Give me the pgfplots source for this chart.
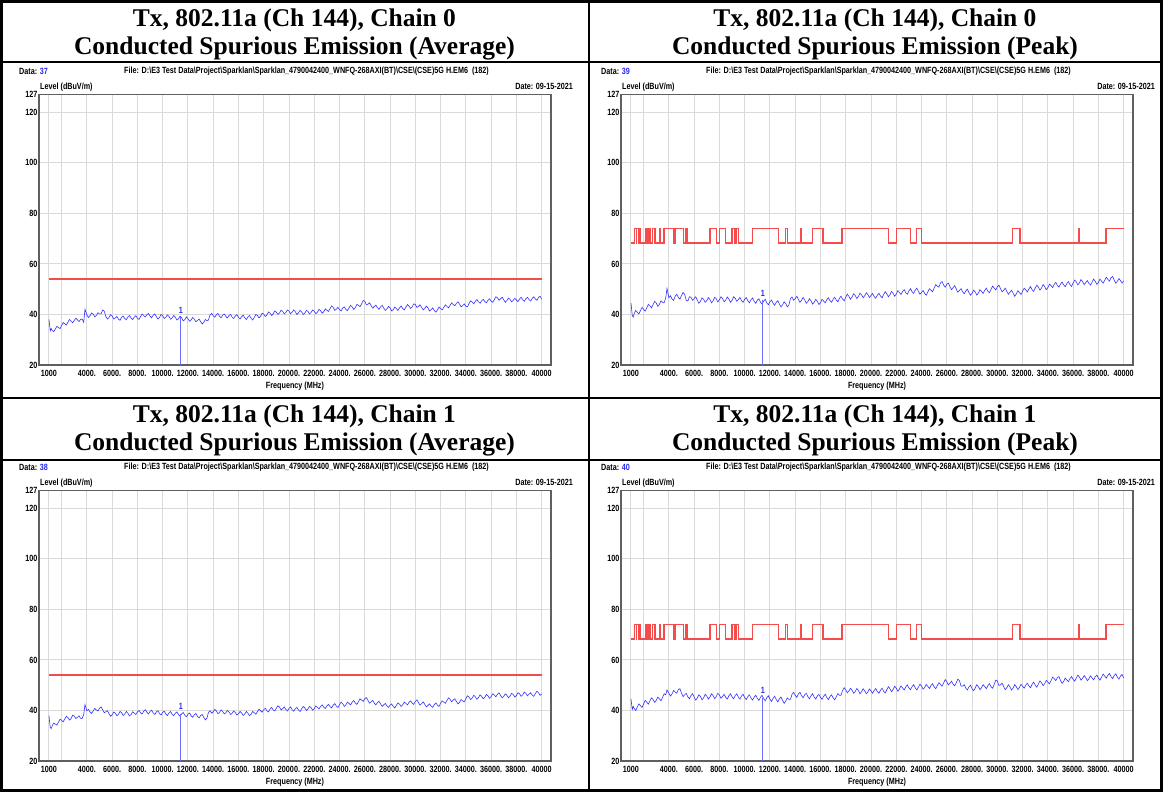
\documentclass[border=0pt]{standalone}
\usepackage{fontspec}
\setmainfont{Liberation Serif}
\newfontfamily\nar[FakeStretch=0.8]{Liberation Sans}
\usepackage{pgfplots}
\usepackage{pgfplotstable}
\pgfplotsset{compat=1.18}
\definecolor{curve}{RGB}{50,50,255}
\definecolor{mark}{RGB}{110,110,255}
\definecolor{lim}{RGB}{245,75,75}
\definecolor{gridc}{RGB}{218,218,218}
\definecolor{framec}{RGB}{95,95,95}
\definecolor{datab}{RGB}{40,40,235}

\pgfplotstableread{
x a0 p0 a1 p1
1000 38.0 44.6 37.9 44.6
1100 33.5 39.6 33.3 40.4
1175 34.4 39.0 32.8 41.6
1250 33.8 40.3 33.9 40.8
1375 33.2 41.6 35.0 40.0
1500 34.2 40.9 34.6 41.3
1625 35.3 40.2 34.2 42.6
1750 34.8 41.5 35.4 41.9
1875 34.4 42.8 36.5 41.2
2000 35.6 42.0 36.1 42.6
2125 36.8 41.3 35.5 44.0
2250 36.3 42.6 36.6 43.3
2375 35.8 44.0 37.7 42.5
2500 37.0 43.4 37.2 43.8
2625 38.0 42.6 36.2 45.0
2750 37.4 43.9 36.8 44.3
2875 36.7 45.2 38.1 43.2
3000 37.6 44.5 37.8 44.0
3125 38.5 43.2 36.8 45.3
3250 37.9 44.0 37.3 44.6
3375 37.2 45.4 37.9 43.8
3500 38.0 44.8 36.9 45.1
3625 38.2 44.6 36.8 46.6
3750 36.9 46.5 38.4 46.2
3850 42.0 50.3 42.3 48.1
4000 39.8 46.6 39.9 46.9
4125 38.8 47.4 40.4 45.7
4250 39.5 46.1 39.4 46.5
4375 40.6 45.6 38.8 47.9
4500 40.1 47.2 39.8 47.3
4625 39.0 48.0 40.8 46.8
4750 39.6 46.7 40.2 48.3
4875 40.7 46.1 39.8 48.6
5000 40.2 47.5 40.9 46.8
5125 40.2 48.7 41.4 45.5
5250 41.8 47.9 40.3 46.2
5375 41.3 45.6 39.1 46.8
5500 39.2 45.3 39.5 45.4
5625 38.2 47.0 39.9 44.6
5750 38.8 46.8 38.7 45.9
5875 39.9 45.6 37.7 46.6
6000 39.4 46.3 38.3 45.3
6125 38.2 47.0 39.4 44.1
6250 38.6 45.7 38.9 44.9
6375 39.2 44.4 37.9 46.2
6500 38.1 45.2 38.5 45.5
6625 37.7 46.6 39.6 44.2
6750 38.9 46.0 39.1 45.0
6875 39.4 44.8 38.0 46.4
7000 38.4 45.5 38.6 45.7
7125 37.9 46.7 39.6 44.5
7250 39.0 45.9 38.9 45.3
7375 39.6 44.6 37.8 46.6
7500 38.6 45.4 38.4 45.9
7625 38.0 46.8 39.5 44.7
7750 38.9 46.2 39.0 45.5
7875 39.5 45.0 38.4 46.8
8000 38.5 45.8 39.4 46.1
8125 38.0 47.0 40.0 44.8
8250 39.2 46.3 39.1 45.6
8375 40.2 45.0 38.6 46.4
8500 39.6 45.7 39.7 45.2
8625 39.0 46.9 40.3 44.5
8750 39.9 46.1 39.3 45.8
8875 40.4 44.8 38.6 46.6
9000 39.3 45.6 39.6 45.4
9125 38.7 47.0 40.1 44.6
9250 39.7 46.4 39.0 45.9
9375 40.2 45.2 38.4 46.6
9500 39.1 45.9 39.4 45.3
9625 38.2 46.7 39.9 44.5
9750 38.8 45.5 38.8 45.7
9875 40.0 44.8 38.2 46.4
10000 39.5 46.0 39.2 45.1
10125 38.4 46.7 39.7 44.3
10250 38.9 45.4 38.6 45.5
10375 39.8 44.6 38.0 46.2
10500 39.2 45.8 39.0 44.9
10625 38.1 46.5 39.6 44.1
10750 38.6 45.2 38.5 45.3
10875 39.6 44.4 37.9 46.0
11000 38.9 45.6 38.9 44.8
11125 37.8 46.2 39.4 44.0
11250 38.3 44.9 38.4 45.2
11375 39.3 44.1 37.7 46.0
11500 38.7 45.3 38.6 44.7
11625 37.5 46.0 39.2 43.8
11750 37.9 44.6 38.1 45.0
11875 39.0 43.8 37.5 45.8
12000 38.4 45.0 38.5 44.5
12125 37.3 45.7 39.0 43.6
12250 37.8 44.4 37.9 44.8
12375 38.8 43.6 37.3 45.6
12500 38.2 44.8 38.3 44.3
12625 37.1 45.4 38.8 43.4
12750 37.6 44.1 37.7 44.6
12875 38.2 43.0 37.0 45.3
13000 37.2 43.8 38.0 44.0
13125 36.2 45.0 38.4 42.8
13250 36.9 44.3 37.3 43.7
13375 38.0 43.0 36.3 45.0
13500 37.5 43.7 36.9 44.4
13625 37.8 46.3 39.2 44.4
13750 39.8 46.9 39.9 46.4
13875 40.4 45.6 38.9 47.2
14000 39.5 46.3 39.5 46.0
14125 38.9 47.2 40.4 45.2
14250 39.9 46.0 39.8 46.5
14375 40.4 44.8 38.7 47.2
14500 39.3 45.6 39.2 45.9
14625 38.7 46.7 40.2 45.0
14750 39.7 45.8 39.6 46.2
14875 40.2 44.4 38.6 46.8
15000 39.2 45.1 39.1 45.5
15125 38.6 46.2 40.0 44.6
15250 39.6 45.4 39.4 45.8
15375 40.0 44.1 38.4 46.6
15500 38.9 44.8 38.9 45.3
15625 38.4 46.0 39.8 44.5
15750 39.4 45.2 39.2 45.7
15875 39.9 43.9 38.2 46.4
16000 38.8 44.6 38.7 45.2
16125 38.2 46.0 39.6 44.4
16250 39.1 45.3 39.0 45.6
16375 39.7 44.6 38.0 46.4
16500 38.7 45.8 38.6 45.1
16625 38.0 46.6 39.6 44.3
16750 39.0 45.5 38.9 45.5
16875 39.6 44.8 37.9 46.2
17000 38.5 46.0 38.5 45.0
17125 37.8 46.8 39.6 44.2
17250 38.8 45.7 39.1 45.4
17375 40.0 45.0 38.5 46.7
17500 39.6 46.4 39.5 46.0
17625 38.6 47.2 40.5 46.0
17750 39.3 46.1 39.9 47.9
17875 40.5 45.4 39.3 49.0
18000 40.1 46.8 40.3 48.2
18125 39.2 48.0 40.9 47.0
18250 39.8 47.2 39.9 47.7
18375 41.0 46.0 39.4 48.8
18500 40.5 46.9 40.6 48.0
18625 39.6 48.2 41.2 46.8
18750 40.2 47.5 40.2 47.5
18875 41.4 46.3 39.8 48.7
19000 40.9 47.1 40.9 47.9
19125 40.0 48.4 41.9 46.6
19250 40.6 47.8 41.3 47.4
19375 41.7 46.6 40.2 48.6
19500 41.2 47.4 40.7 47.8
19625 40.2 48.6 41.4 46.6
19750 40.8 47.9 40.4 47.3
19875 41.8 46.7 39.8 48.5
20000 41.3 47.5 40.8 47.7
20125 40.3 48.3 41.4 46.8
20250 40.9 47.1 40.3 47.9
20375 41.8 46.4 39.7 48.7
20500 41.1 47.6 40.7 47.5
20625 40.0 48.4 41.2 46.8
20750 40.6 47.3 40.2 48.0
20875 41.6 46.6 39.6 48.8
21000 41.0 47.9 40.6 47.6
21125 40.0 49.0 41.6 46.9
21250 40.5 48.2 41.0 48.2
21375 41.6 47.0 40.0 49.4
21500 41.2 47.8 40.6 48.6
21625 40.2 49.1 41.6 47.4
21750 40.8 48.4 41.1 48.3
21875 41.8 47.2 40.1 49.6
22000 41.3 48.1 40.7 48.8
22125 40.3 49.4 41.8 47.6
22250 40.9 48.7 41.2 48.5
22375 42.0 47.9 40.6 49.7
22500 41.5 49.1 41.6 48.9
22625 40.5 49.8 42.2 48.1
22750 41.1 48.6 41.3 49.3
22875 42.2 48.0 40.8 50.1
23000 41.7 49.3 41.8 48.9
23125 41.2 50.2 42.4 48.2
23250 42.3 49.0 41.5 49.4
23375 43.4 48.3 41.0 50.2
23500 42.8 49.6 42.1 49.0
23625 41.6 50.4 42.7 48.1
23750 42.1 49.2 41.7 49.2
23875 42.8 48.0 41.2 50.4
24000 41.9 48.7 42.3 49.6
24125 41.4 49.5 43.3 48.4
24250 42.5 48.3 42.7 49.1
24375 43.0 47.6 41.6 50.3
24500 42.0 48.9 42.2 49.5
24625 41.5 50.2 43.3 48.7
24750 42.6 49.6 42.8 49.9
24875 43.6 49.0 42.2 50.6
25000 43.0 50.4 43.3 49.4
25125 42.0 51.8 43.9 48.6
25250 42.7 51.2 42.9 49.8
25375 44.0 50.8 42.4 51.0
25500 43.6 52.5 43.5 50.3
25625 43.1 53.0 44.6 49.6
25750 44.2 51.6 44.1 50.9
25875 45.5 50.8 43.6 52.2
26000 45.2 51.9 44.6 51.4
26125 43.8 52.4 45.1 50.1
26250 44.0 51.0 44.0 50.8
26375 44.6 49.8 42.9 51.6
26500 43.5 50.6 43.4 50.4
26625 42.5 51.4 44.0 49.7
26750 43.1 50.1 42.9 51.0
26875 43.7 48.8 42.2 52.4
27000 42.7 49.5 43.1 51.8
27125 42.0 50.2 43.6 49.7
27250 43.0 49.0 42.6 49.6
27375 43.6 48.2 41.6 50.2
27500 42.5 49.3 42.2 48.9
27625 41.6 50.0 42.8 48.1
27750 42.2 48.7 41.8 49.3
27875 43.2 47.6 41.2 50.0
28000 42.6 48.4 42.1 48.6
28125 41.4 49.6 42.6 47.8
28250 41.9 48.9 41.6 48.9
28375 42.9 47.7 41.0 50.2
28500 42.3 48.5 42.0 49.4
28625 41.6 49.8 43.0 48.2
28750 42.6 49.1 42.5 49.0
28875 43.3 48.3 41.6 50.2
29000 42.4 49.5 42.2 49.5
29125 41.8 50.4 43.3 48.6
29250 42.9 49.2 42.8 49.8
29375 43.9 48.6 42.2 50.6
29500 43.3 49.9 43.2 49.4
29625 42.4 51.2 43.8 48.8
29750 43.0 50.5 42.9 50.3
29875 44.2 49.7 42.4 52.0
30000 43.9 50.9 43.6 51.7
30125 42.8 51.6 44.2 49.9
30250 43.2 50.2 43.1 50.1
30375 43.8 48.9 42.1 50.8
30500 42.8 49.6 42.7 49.5
30625 41.8 50.4 43.4 48.2
30750 42.4 49.1 42.4 49.0
30875 43.3 48.0 41.4 50.2
31000 42.6 48.8 42.0 49.3
31125 41.4 49.6 42.6 48.1
31250 41.9 48.4 41.7 48.9
31375 42.6 47.2 41.2 50.2
31500 41.6 48.1 42.3 49.4
31625 40.9 49.4 43.0 48.2
31750 41.8 48.6 42.1 49.1
31875 42.9 47.9 41.6 50.4
32000 42.4 49.2 42.8 49.6
32125 41.8 50.4 43.8 48.8
32250 42.8 49.7 43.3 50.0
32375 43.8 48.9 42.8 50.8
32500 43.2 50.1 43.9 49.7
32625 42.6 51.0 45.0 49.0
32750 43.6 49.8 44.4 50.3
32875 44.6 49.1 43.4 51.2
33000 43.9 50.4 44.1 50.0
33125 43.4 51.6 44.6 49.2
33250 44.4 50.8 43.6 50.5
33375 45.0 49.6 42.6 51.7
33500 44.1 50.5 43.2 50.9
33625 43.0 51.8 44.3 49.8
33750 43.5 51.0 43.8 50.6
33875 44.2 49.8 43.4 51.9
34000 43.2 50.6 44.6 51.2
34125 43.0 52.0 45.8 50.5
34250 44.3 51.4 45.3 51.8
34375 45.4 50.6 44.3 53.2
34500 44.9 51.9 44.9 52.6
34625 44.2 52.7 46.0 51.8
34750 45.2 51.5 45.4 53.0
34875 45.9 50.8 44.4 53.4
35000 45.0 52.0 45.1 51.9
35125 44.4 52.8 46.2 50.7
35250 45.4 51.7 45.6 51.5
35375 46.0 51.0 44.6 52.8
35500 45.1 52.2 45.2 52.1
35625 44.6 53.0 46.3 51.4
35750 45.6 51.8 45.8 52.6
35875 46.2 51.1 44.8 53.4
36000 45.3 52.4 45.5 52.3
36125 44.8 53.6 46.6 51.6
36250 45.8 52.9 46.1 52.8
36375 47.0 51.7 45.4 54.0
36500 46.6 52.5 46.4 53.2
36625 45.6 53.8 47.0 52.0
36750 46.2 53.0 45.9 52.7
36875 46.8 51.8 45.0 53.8
37000 45.8 52.6 45.6 53.0
37125 44.8 53.4 46.6 51.8
37250 45.5 52.3 46.0 52.5
37375 46.5 51.6 45.0 53.7
37500 45.9 52.8 45.7 52.9
37625 45.0 54.0 46.8 52.1
37750 45.6 53.1 46.3 53.3
37875 46.4 51.9 45.3 54.0
38000 45.7 52.7 45.9 52.8
38125 45.1 54.0 47.0 52.0
38250 46.1 53.2 46.6 53.2
38375 46.8 52.4 45.6 54.4
38500 45.8 53.5 46.2 53.6
38625 45.2 54.7 47.3 52.8
38750 46.2 53.9 46.8 53.9
38875 46.8 53.2 45.8 54.6
39000 45.9 54.5 46.4 53.4
39125 45.3 55.0 47.0 52.6
39250 46.3 53.6 46.1 53.8
39375 47.0 52.4 45.6 54.5
39500 46.1 53.1 46.7 53.2
39625 45.6 54.2 47.6 52.4
39750 46.8 53.4 47.0 53.6
39875 47.2 52.4 46.0 54.2
40000 46.0 53.3 46.5 52.9
}\spec

\pgfplotstableread{
x lvl
1000 68.2
1300 74
1427 68.2
1435 74
1626.5 68.2
1645.5 74
1646.5 68.2
1660 74
1710 68.2
1718.8 74
1722.2 68.2
2200 74
2300 68.2
2310 74
2390 68.2
2483.5 74
2500 68.2
2690 74
2900 68.2
3260 74
3267 68.2
3332 74
3339 68.2
3345.8 74
3358 68.2
3600 74
4400 68.2
4500 74
5150 68.2
5350 74
5460 68.2
7250 74
7750 68.2
8025 74
8500 68.2
9000 74
9200 68.2
9300 74
9500 68.2
10600 74
12700 68.2
13250 74
13400 68.2
14470 74
14500 68.2
15350 74
16200 68.2
17700 74
21400 68.2
22010 74
23120 68.2
23600 74
24000 68.2
31200 74
31800 68.2
36430 74
36500 68.2
38600 74
40000 74
}\peaklim

\newcommand\smallfont{\nar\bfseries\fontsize{9}{10.5}\selectfont}

\pgfplotsset{emi/.style={
  scale only axis, width=512pt, height=270.4pt,
  anchor=south west,
  xmin=210, xmax=40740, ymin=20, ymax=127,
  axis line style={framec, line width=1.2pt},
  grid=major, major grid style={gridc, line width=1pt},
  major tick length=0pt,
  scaled x ticks=false, scaled y ticks=false,
  xtick={1000,2000,4000,6000,8000,10000,12000,14000,16000,18000,20000,22000,24000,26000,28000,30000,32000,34000,36000,38000,40000},
  xticklabels={1000,,4000.,6000.,8000.,10000.,12000.,14000.,16000.,18000.,20000.,22000.,24000.,26000.,28000.,30000.,32000.,34000.,36000.,38000.,40000},
  ytick={20,40,60,80,100,120,127},
  yticklabels={20,40,60,80,100,120,127},
  ticklabel style={font=\smallfont, text=black},
  yticklabel style={inner sep=1.5pt},
  xticklabel style={inner sep=1pt, yshift=-4pt},
  xlabel={Frequency (MHz)},
  xlabel style={font=\smallfont, at={(axis description cs:0.5,0)}, anchor=north, yshift=-17pt, inner sep=0pt},
}}

\newcommand\paneltext[3]{%
  \node[anchor=west, font=\smallfont, inner sep=0pt] at ({19+#1},{721+(#2)}) {Data: \textcolor{datab}{#3}};
  \node[anchor=west, font=\smallfont, inner sep=0pt] at ({124+#1},{721+(#2)}) {File: D:\textbackslash E3 Test Data\textbackslash Project\textbackslash Sparklan\textbackslash Sparklan\_4790042400\_WNFQ-268AXI(BT)\textbackslash CSE\textbackslash (CSE)5G H.EM6\ \ (182)};
  \node[anchor=west, font=\smallfont, inner sep=0pt] at ({40+#1},{705+(#2)}) {Level (dBuV/m)};
  \node[anchor=east, font=\smallfont, inner sep=0pt] at ({573+#1},{705.5+(#2)}) {Date: 09-15-2021};
}

\begin{document}
\begin{tikzpicture}[x=1pt,y=1pt]
\useasboundingbox (0,0) rectangle (1163,792);

% table rules
\draw[line width=3pt] (1.5,1.5) rectangle (1161.5,790.5);
\draw[line width=2.5pt] (589,0) -- (589,792);
\draw[line width=2pt] (0,730) -- (1163,730);
\draw[line width=2pt] (0,394) -- (1163,394);
\draw[line width=2pt] (0,332) -- (1163,332);

% titles
\node[font=\bfseries\fontsize{25.5}{28}\selectfont, align=center] at (294.5,758) {Tx, 802.11a (Ch 144), Chain 0\\Conducted Spurious Emission (Average)};
\node[font=\bfseries\fontsize{25.5}{28}\selectfont, align=center] at (875,758) {Tx, 802.11a (Ch 144), Chain 0\\Conducted Spurious Emission (Peak)};
\node[font=\bfseries\fontsize{25.5}{28}\selectfont, align=center] at (294.5,362) {Tx, 802.11a (Ch 144), Chain 1\\Conducted Spurious Emission (Average)};
\node[font=\bfseries\fontsize{25.5}{28}\selectfont, align=center] at (875,362) {Tx, 802.11a (Ch 144), Chain 1\\Conducted Spurious Emission (Peak)};

\paneltext{0}{0}{37}
\paneltext{582}{0}{39}
\paneltext{0}{-396}{38}
\paneltext{582}{-396}{40}

% top-left: chain 0 average
\begin{axis}[emi, at={(39pt,427pt)}]
\addplot[lim, line width=1.5pt] coordinates {(1000,54) (40000,54)};
\addplot[color=curve, line width=0.6pt] table[x=x, y=a0] {\spec};
\addplot[color=mark, line width=0.8pt] coordinates {(11440,20) (11440,38.8)};
\node[font=\smallfont, text=datab, inner sep=0pt] at (axis cs:11440,41.6) {1};
\end{axis}

% top-right: chain 0 peak
\begin{axis}[emi, at={(621pt,427pt)}]
\addplot[lim, line width=1.4pt, const plot] table[x=x, y=lvl] {\peaklim};
\addplot[color=curve, line width=0.6pt] table[x=x, y=p0] {\spec};
\addplot[color=mark, line width=0.8pt] coordinates {(11440,20) (11440,45.6)};
\node[font=\smallfont, text=datab, inner sep=0pt] at (axis cs:11440,48.4) {1};
\end{axis}

% bottom-left: chain 1 average
\begin{axis}[emi, at={(39pt,31pt)}]
\addplot[lim, line width=1.5pt] coordinates {(1000,54) (40000,54)};
\addplot[color=curve, line width=0.6pt] table[x=x, y=a1] {\spec};
\addplot[color=mark, line width=0.8pt] coordinates {(11440,20) (11440,38.6)};
\node[font=\smallfont, text=datab, inner sep=0pt] at (axis cs:11440,41.6) {1};
\end{axis}

% bottom-right: chain 1 peak
\begin{axis}[emi, at={(621pt,31pt)}]
\addplot[lim, line width=1.4pt, const plot] table[x=x, y=lvl] {\peaklim};
\addplot[color=curve, line width=0.6pt] table[x=x, y=p1] {\spec};
\addplot[color=mark, line width=0.8pt] coordinates {(11440,20) (11440,45.0)};
\node[font=\smallfont, text=datab, inner sep=0pt] at (axis cs:11440,48.0) {1};
\end{axis}
\end{tikzpicture}
\end{document}
